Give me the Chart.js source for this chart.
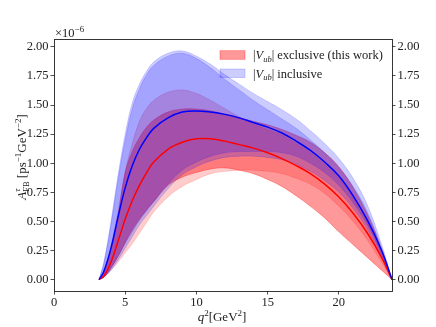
<!DOCTYPE html>
<html><head><meta charset="utf-8">
<script src="https://cdn.jsdelivr.net/npm/chart.js@4.4.0/dist/chart.umd.min.js"></script>
<style>html,body{margin:0;padding:0;background:#fff;}#wrap{width:436px;height:327px;}</style>
</head><body><div id="wrap"><canvas id="c" width="436" height="327"></canvas></div>
<script>
// q^2 grid [GeV^2]
const q2 = [3.16,3.5,4,4.5,5,5.5,6,6.5,7,8,9,10,11,12,13,14,15,16,17,18,19,20,21,22,23,23.73];
// central curves (x1e-6)
const redCentral  = [0,0.03,0.15,0.33,0.52,0.68,0.81,0.92,1.01,1.12,1.18,1.21,1.21,1.19,1.16,1.13,1.09,1.04,0.98,0.91,0.82,0.71,0.57,0.40,0.19,0];
const blueCentral = [0,0.07,0.27,0.54,0.79,0.98,1.12,1.22,1.30,1.39,1.44,1.45,1.44,1.42,1.39,1.35,1.31,1.26,1.19,1.11,1.01,0.89,0.72,0.51,0.25,0];
// exclusive bands
const redTopA    = [0,0.08,0.28,0.58,0.93,1.17,1.36,1.47,1.54,1.61,1.63,1.60,1.54,1.47,1.40,1.34,1.29,1.24,1.17,1.09,0.99,0.87,0.70,0.49,0.22,0];
const redBottomA = [0,0.02,0.08,0.15,0.23,0.31,0.40,0.49,0.58,0.71,0.80,0.86,0.91,0.93,0.94,0.94,0.93,0.91,0.87,0.82,0.74,0.63,0.50,0.34,0.15,0];
const redTopB    = [0,0.06,0.26,0.56,0.92,1.10,1.22,1.31,1.37,1.44,1.465,1.465,1.45,1.42,1.39,1.36,1.33,1.29,1.24,1.18,1.09,0.97,0.79,0.56,0.26,0];
const redBottomB = [0,0.02,0.10,0.20,0.32,0.43,0.52,0.60,0.67,0.81,0.88,0.92,0.95,0.96,0.94,0.91,0.86,0.80,0.72,0.63,0.53,0.41,0.30,0.19,0.08,0];
// inclusive bands
const blueTopA    = [0,0.15,0.50,0.90,1.25,1.52,1.68,1.79,1.87,1.945,1.965,1.92,1.85,1.76,1.68,1.60,1.53,1.46,1.38,1.28,1.17,1.04,0.87,0.64,0.30,0];
const blueBottomA = [0,0.02,0.08,0.17,0.27,0.37,0.47,0.55,0.63,0.78,0.90,0.97,1.02,1.05,1.06,1.06,1.05,1.03,0.99,0.93,0.85,0.75,0.61,0.43,0.20,0];
const blueTopB    = [0,0.14,0.47,0.86,1.20,1.47,1.64,1.76,1.84,1.92,1.945,1.90,1.82,1.72,1.63,1.54,1.46,1.38,1.30,1.20,1.09,0.96,0.80,0.58,0.27,0];
const blueBottomB = [0,0.02,0.10,0.20,0.31,0.41,0.51,0.59,0.67,0.82,0.94,1.01,1.06,1.09,1.10,1.10,1.10,1.09,1.06,1.00,0.92,0.81,0.66,0.47,0.22,0];

const xTicks = [0,5,10,15,20];
const yTicks = [0,0.25,0.5,0.75,1.0,1.25,1.5,1.75,2.0];
const X_MAX = 23.73, Y_MIN = -0.0985, Y_MAX = 2.068;

const SERIF = '"Liberation Serif","DejaVu Serif",serif';
const pts = a => q2.map((x,i)=>({x:x,y:a[i]}));
const RED_A = 'rgba(255,0,0,0.2)', RED_B = 'rgba(255,0,0,0.4)', BLUE = 'rgba(0,0,255,0.2)';

function bandEdge(arr, col){ return {data:pts(arr), borderColor:col, borderWidth:0.8, fill:false, pointRadius:0}; }
function bandTop(arr, col, target){ return {data:pts(arr), borderColor:col, borderWidth:0.8, backgroundColor:col, fill:target, pointRadius:0}; }

const datasets = [
  {data:pts(blueCentral), borderColor:'#0000ff', borderWidth:1.5, fill:false, pointRadius:0},   //0
  {data:pts(redCentral),  borderColor:'#ff0000', borderWidth:1.5, fill:false, pointRadius:0},   //1
  bandEdge(blueBottomB, BLUE), bandTop(blueTopB, BLUE, 2),   //2,3
  bandEdge(blueBottomA, BLUE), bandTop(blueTopA, BLUE, 4),   //4,5
  bandEdge(redBottomB, RED_B), bandTop(redTopB, RED_B, 6),   //6,7
  bandEdge(redBottomA, RED_A), bandTop(redTopA, RED_A, 8)    //8,9
];

function rich(ctx, segs, x, y, align, rot){
  ctx.save();
  ctx.translate(x,y); if(rot) ctx.rotate(rot);
  ctx.textBaseline='alphabetic'; ctx.textAlign='left';
  let cur=0, prevStart=0, prevW=0; const pos=[];
  for(const s of segs){
    ctx.font=(s.it?'italic ':'')+s.size+'px '+SERIF;
    const w=ctx.measureText(s.t).width;
    if(s.stack){ pos.push(prevStart); cur=prevStart+Math.max(prevW,w); }
    else { pos.push(cur); prevStart=cur; prevW=w; cur+=w; }
  }
  const off = align==='center' ? -cur/2 : 0;
  segs.forEach((s,i)=>{
    ctx.font=(s.it?'italic ':'')+s.size+'px '+SERIF;
    ctx.fillStyle='#222';
    ctx.fillText(s.t, off+pos[i], s.dy||0);
  });
  ctx.restore();
}

const decor = {
  id:'decor',
  afterDatasetsDraw(chart){
    const ctx=chart.ctx;
    ctx.save();
    ctx.fillStyle=RED_B; ctx.strokeStyle=RED_B; ctx.lineWidth=0.8;
    ctx.fillRect(220,50.7,25,8.6); ctx.strokeRect(220,50.7,25,8.6);
    ctx.fillStyle=BLUE; ctx.strokeStyle=BLUE;
    ctx.fillRect(220,69,25,8.6); ctx.strokeRect(220,69,25,8.6);
    ctx.restore();
    rich(ctx,[{t:'|',size:12.5},{t:'V',size:12.5,it:true},{t:'ub',size:8.5,it:true,dy:2.5},{t:'| exclusive (this work)',size:12.5}],253,59,'left');
    rich(ctx,[{t:'|',size:12.5},{t:'V',size:12.5,it:true},{t:'ub',size:8.5,it:true,dy:2.5},{t:'| inclusive',size:12.5}],253,77.5,'left');
  },
  afterDraw(chart){
    const ctx=chart.ctx, a=chart.chartArea;
    ctx.save();
    ctx.strokeStyle='#222'; ctx.lineWidth=0.9;
    ctx.strokeRect(Math.round(a.left)+0.5, Math.round(a.top)+0.5, Math.round(a.right-a.left), Math.round(a.bottom-a.top));
    ctx.restore();
    rich(ctx,[{t:'\u00d710',size:12.5},{t:'\u22126',size:9,dy:-5}],55,37,'left');
    rich(ctx,[{t:'q',size:13,it:true},{t:'2',size:9,dy:-5},{t:'[GeV',size:13},{t:'2',size:9,dy:-5},{t:']',size:13}],222,321,'center');
    rich(ctx,[{t:'A',size:13,it:true},{t:'FB',size:8.5,dy:3},{t:'\u03c4',size:9,it:true,dy:-6,stack:true},{t:' [ps',size:13},{t:'\u22121',size:9,dy:-5},{t:'GeV',size:13},{t:'\u22122',size:9,dy:-5},{t:']',size:13}],25.5,157,'center',-Math.PI/2);
  }
};

const tickGrid = {display:true, drawOnChartArea:false, drawTicks:true, tickLength:3.5, color:'#222', lineWidth:0.8};
const tickFont = {family:SERIF, size:12.5};

new Chart(document.getElementById('c'), {
  type:'line',
  data:{datasets:datasets},
  options:{
    responsive:false, animation:false, devicePixelRatio:1,
    layout:{padding:{top:39,left:0,right:0,bottom:0}},
    plugins:{legend:{display:false}, tooltip:{enabled:false}},
    elements:{point:{radius:0}, line:{tension:0.4, cubicInterpolationMode:'default'}},
    scales:{
      x:{type:'linear', position:'bottom', min:0, max:X_MAX,
         afterBuildTicks:s=>{s.ticks=xTicks.map(v=>({value:v}));},
         afterFit:s=>{s.height=36;},
         grid:tickGrid, border:{display:false},
         ticks:{font:tickFont, color:'#222', padding:1, maxRotation:0, autoSkip:false, callback:v=>String(v)}},
      y:{type:'linear', position:'left', min:Y_MIN, max:Y_MAX,
         afterBuildTicks:s=>{s.ticks=yTicks.map(v=>({value:v}));},
         afterFit:s=>{s.width=54;},
         grid:tickGrid, border:{display:false},
         ticks:{font:tickFont, color:'#222', padding:2, autoSkip:false, callback:v=>v.toFixed(2)}},
      y2:{type:'linear', position:'right', min:Y_MIN, max:Y_MAX,
         afterBuildTicks:s=>{s.ticks=yTicks.map(v=>({value:v}));},
         afterFit:s=>{s.width=44;},
         grid:tickGrid, border:{display:false},
         ticks:{font:tickFont, color:'#222', padding:2, autoSkip:false, callback:v=>v.toFixed(2)}}
    }
  },
  plugins:[decor]
});
</script></body></html>
